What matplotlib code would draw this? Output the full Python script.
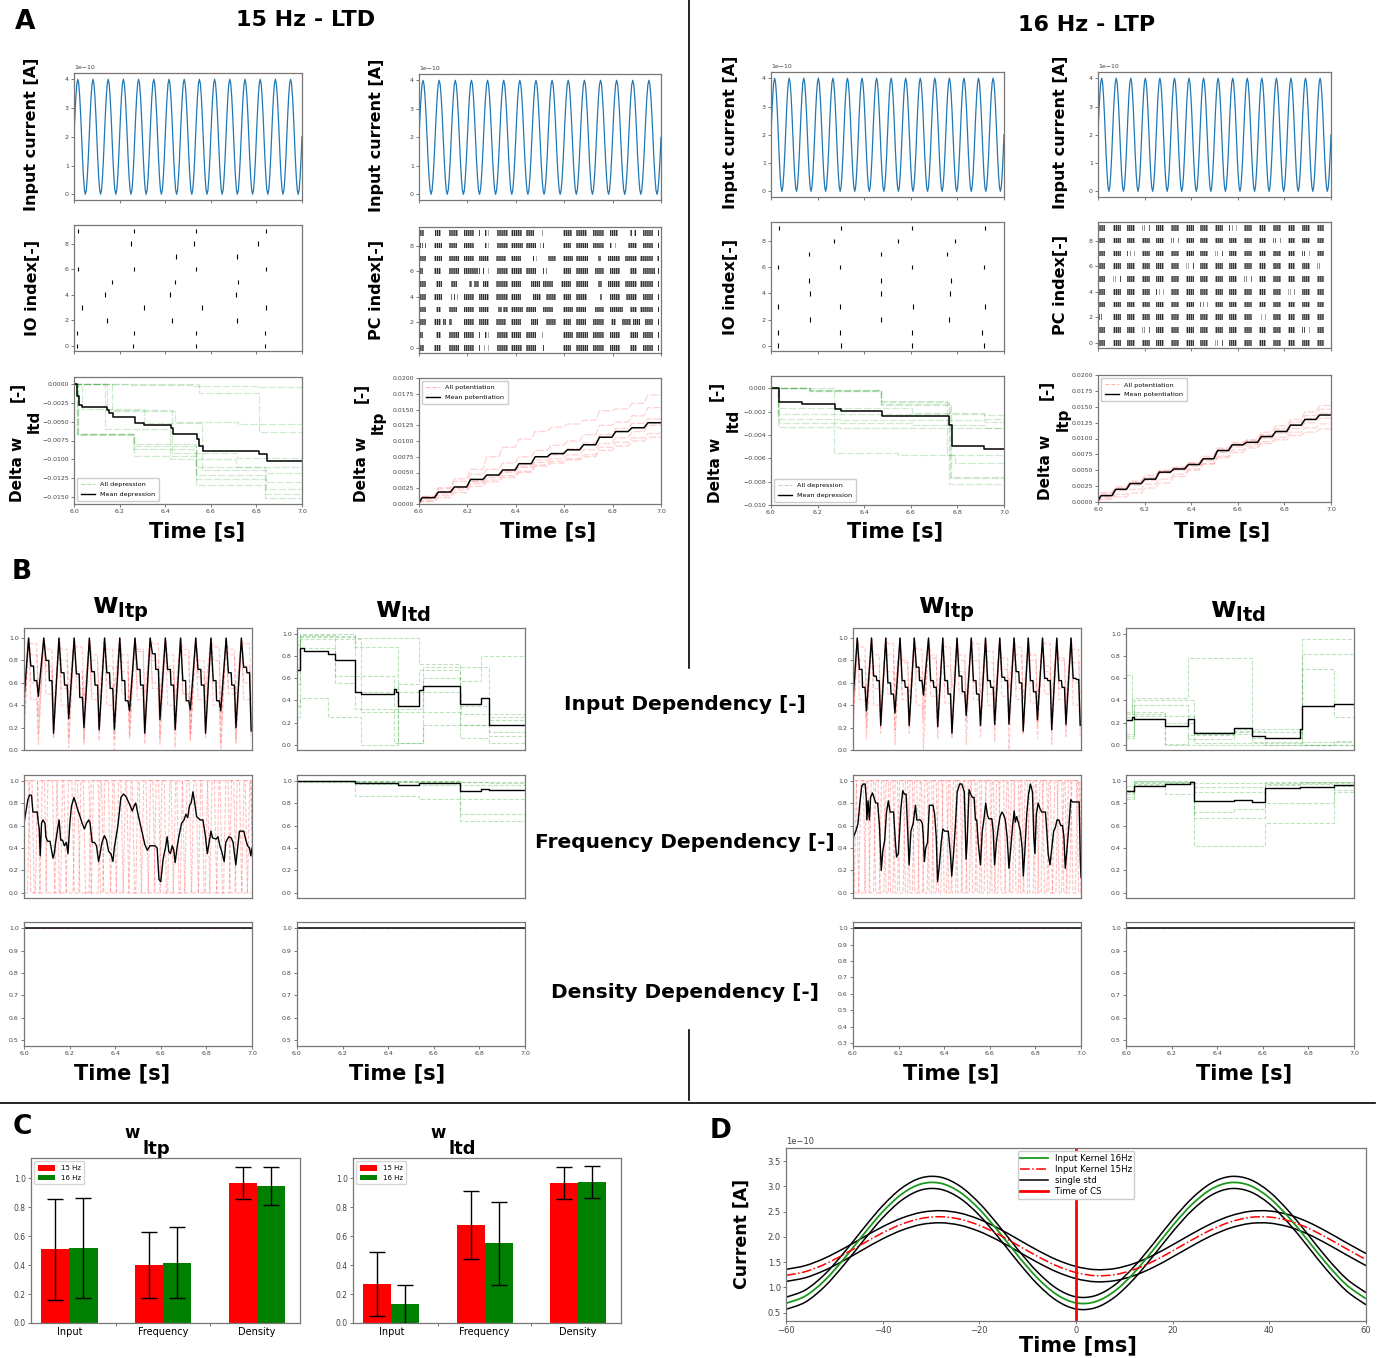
import numpy as np
import matplotlib
matplotlib.use("Agg")
import matplotlib.pyplot as plt
from matplotlib import font_manager
from matplotlib.lines import Line2D
from matplotlib.path import Path
from matplotlib.patches import PathPatch

W, H, DPI = 1386, 1358, 100
_names = {f.name for f in font_manager.fontManager.ttflist}
NARROW = "Liberation Sans Narrow" if "Liberation Sans Narrow" in _names else "DejaVu Sans"
plt.rcParams["font.family"] = [NARROW, "DejaVu Sans"]
plt.rcParams["hatch.linewidth"] = 0.6

# ============================ DATA ============================
# ---- Panel A: input current, one sampled cycle (x1e-10 A), repeated per stimulus cycle
current_cycle = [2.0, 2.77, 3.41, 3.85, 4.0, 3.85, 3.41, 2.77, 2.0, 1.23, 0.59, 0.15, 0.0, 0.15, 0.59, 1.23]
n_cycles_15 = 15
n_cycles_16 = 16

# ---- IO spike times (s), rows 0..9
io_spikes_15 = [
    [6.015, 6.259, 6.533, 6.837], [6.015, 6.261, 6.534, 6.839], [6.143, 6.428, 6.713],
    [6.035, 6.305, 6.561, 6.842], [6.136, 6.422, 6.712], [6.168, 6.441, 6.720],
    [6.019, 6.265, 6.537, 6.840], [6.447, 6.716], [6.250, 6.527, 6.805],
    [6.016, 6.262, 6.537, 6.840]]
io_spikes_16 = [
    [6.031, 6.299, 6.606, 6.916], [6.029, 6.294, 6.604, 6.907], [6.166, 6.473, 6.764],
    [6.029, 6.297, 6.609, 6.917], [6.167, 6.473, 6.769], [6.164, 6.473, 6.774],
    [6.031, 6.297, 6.604, 6.914], [6.164, 6.473, 6.757], [6.271, 6.547, 6.790],
    [6.033, 6.300, 6.607, 6.917]]

# ---- PC bursts, 15 Hz: (start_ms, end_ms) after 6.0 s, rows 0..9
pc_bursts_15 = [
    [(0,21),(62,90),(124,166),(187,228),(249,253),(270,274),(284,288),(321,366),(380,426),(443,484),(498,502),(514,517),(595,629),(650,698),(719,763),(788,830),(871,899),(927,968),(989,993)],
    [(0,17),(69,90),(124,166),(187,228),(249,253),(274,279),(286,290),(321,366),(380,422),(443,484),(498,502),(509,513),(595,636),(650,698),(719,763),(788,830),(871,906),(927,968),(989,993)],
    [(0,28),(62,90),(101,111),(124,138),(187,228),(249,290),(318,360),(380,422),(463,491),(526,567),(595,629),(650,691),(719,763),(795,816),(837,878),(885,913),(934,968),(989,993)],
    [(0,28),(69,90),(124,159),(187,228),(249,290),(325,343),(349,366),(380,429),(443,484),(512,553),(595,636),(650,691),(726,763),(788,844),(871,899),(913,968),(989,993)],
    [(0,28),(62,97),(131,138),(145,149),(159,163),(187,228),(249,290),(318,366),(380,422),(470,505),(526,567),(595,629),(650,696),(747,758),(788,830),(857,902),(927,968),(989,993)],
    [(0,28),(69,97),(131,159),(207,221),(228,249),(263,290),(318,366),(380,422),(463,498),(512,553),(588,629),(650,698),(740,758),(781,830),(851,902),(913,968),(989,993)],
    [(0,17),(62,90),(124,166),(187,242),(249,253),(266,270),(284,288),(321,366),(380,426),(443,484),(512,516),(526,530),(595,629),(650,698),(726,763),(788,830),(871,899),(927,975),(989,993)],
    [(0,28),(62,97),(124,166),(187,228),(249,290),(318,360),(380,422),(470,477),(484,488),(532,567),(595,636),(650,698),(740,754),(781,830),(851,899),(913,968),(982,993)],
    [(3,10),(14,18),(25,30),(62,97),(124,159),(187,228),(274,279),(285,290),(321,366),(380,429),(443,484),(498,503),(512,517),(595,629),(650,698),(719,763),(788,798),(809,813),(864,899),(927,968),(989,993)],
    [(0,21),(66,90),(124,163),(187,228),(249,253),(274,279),(286,290),(322,366),(380,425),(443,477),(498,502),(509,513),(595,632),(650,696),(719,763),(788,823),(871,880),(889,896),(927,968),(989,993)]]

# ---- PC bursts, 16 Hz: per-cycle burst window (ms) and per-row code (B burst, S split, . none)
pc16_windows = [(3,32),(64,98),(126,160),(189,222),(251,285),(314,347),(376,410),(439,472),
                (501,535),(564,597),(626,660),(689,722),(751,785),(814,847),(876,910),(939,972)]
pc16_codes = ["BBBBBBBBSBBBBBBB", "BBBSBBBBBBBBBBSB", "SBBBBBBBBBBSBBBB", "BBBBBBBSBBBBBBBB",
              "BBBBSBBBBBBBBSBB", "BSBBBBBBBBSBBBBB", "BBBBBBSBBBBBBBBS", "BBSBBBBBSBBBBBSB",
              "BBBBBSBBBBBBSBBB", "BBBSBBBBBSBBBBBB"]

# ---- Delta w (A, bottom row): step times (s) and levels
dltd15_mean_t = [6.015, 6.022, 6.034, 6.143, 6.152, 6.170, 6.268, 6.309, 6.426, 6.436, 6.539, 6.547, 6.564, 6.810, 6.846]
dltd15_mean_v = [-0.0015, -0.0027, -0.0030, -0.0034, -0.0038, -0.0043, -0.0051, -0.0054, -0.0058, -0.0066, -0.0073, -0.0083, -0.0089, -0.0093, -0.0102]
dltd15_traces = [
    ([6.015, 6.259, 6.533, 6.837], [-0.0066, -0.0087, -0.0134, -0.0146]),
    ([6.015, 6.261, 6.534, 6.839], [-0.0066, -0.0096, -0.0111, -0.0152]),
    ([6.143, 6.428, 6.713], [-0.0034, -0.0092, -0.0099]),
    ([6.035, 6.305, 6.561, 6.842], [-0.0033, -0.0052, -0.0114, -0.0119]),
    ([6.136, 6.422, 6.712], [-0.0060, -0.0100, -0.0110]),
    ([6.168, 6.441, 6.720], [-0.0035, -0.0050, -0.0053]),
    ([6.019, 6.265, 6.537, 6.840], [-0.0066, -0.0080, -0.0121, -0.0140]),
    ([6.550, 6.810], [-0.0012, -0.0063]),
    ([6.250, 6.527, 6.805], [-0.0001, -0.0002, -0.0003]),
    ([6.016, 6.262, 6.537, 6.840], [-0.0067, -0.0083, -0.0126, -0.0131])]

dltd16_mean_t = [6.035, 6.135, 6.275, 6.300, 6.476, 6.765, 6.775, 6.915]
dltd16_mean_v = [-0.0012, -0.0013, -0.0018, -0.0019, -0.0024, -0.0031, -0.0049, -0.0052]
dltd16_traces = [
    ([6.031, 6.299, 6.606, 6.916], [-0.0017, -0.0017, -0.0021, -0.0023]),
    ([6.029, 6.294, 6.604, 6.907], [-0.0033, -0.0034, -0.0034, -0.0034]),
    ([6.166, 6.473, 6.764], [-0.0001, -0.0012, -0.0082]),
    ([6.029, 6.297, 6.609, 6.917], [-0.0026, -0.0027, -0.0027, -0.0029]),
    ([6.167, 6.473, 6.769], [-0.0002, -0.0013, -0.0076]),
    ([6.164, 6.473, 6.774], [-0.0001, -0.0014, -0.0077]),
    ([6.031, 6.297, 6.604, 6.914], [-0.0022, -0.0022, -0.0022, -0.0026]),
    ([6.164, 6.473, 6.757], [-0.0002, -0.0011, -0.0057]),
    ([6.271, 6.547, 6.790], [-0.0055, -0.0057, -0.0064]),
    ([6.033, 6.300, 6.607, 6.917], [-0.0030, -0.0030, -0.0031, -0.0034])]

dltp15_step_t = [6.005, 6.072, 6.138, 6.205, 6.272, 6.338, 6.405, 6.472, 6.538, 6.605, 6.672, 6.738, 6.805, 6.872, 6.938]
dltp15_mean = [0.0010, 0.0019, 0.0027, 0.0039, 0.0046, 0.0054, 0.0064, 0.0075, 0.0080, 0.0086, 0.0094, 0.0106, 0.0115, 0.0121, 0.0129]
dltp15_traces = [
    [0.0012, 0.0026, 0.0040, 0.0055, 0.0075, 0.0090, 0.0103, 0.0115, 0.0122, 0.0127, 0.0133, 0.0148, 0.0151, 0.0160, 0.0173],
    [0.0012, 0.0024, 0.0036, 0.0047, 0.0055, 0.0065, 0.0075, 0.0085, 0.0093, 0.0100, 0.0110, 0.0125, 0.0130, 0.0140, 0.0153],
    [0.0010, 0.0020, 0.0028, 0.0036, 0.0045, 0.0052, 0.0060, 0.0070, 0.0078, 0.0088, 0.0097, 0.0110, 0.0120, 0.0128, 0.0135],
    [0.0008, 0.0016, 0.0025, 0.0035, 0.0042, 0.0050, 0.0058, 0.0066, 0.0072, 0.0078, 0.0086, 0.0096, 0.0105, 0.0115, 0.0125],
    [0.0005, 0.0013, 0.0022, 0.0032, 0.0038, 0.0045, 0.0052, 0.0062, 0.0068, 0.0072, 0.0078, 0.0090, 0.0098, 0.0105, 0.0112],
    [0.0004, 0.0010, 0.0018, 0.0028, 0.0035, 0.0042, 0.0050, 0.0060, 0.0065, 0.0070, 0.0075, 0.0085, 0.0092, 0.0100, 0.0106]]

dltp16_step_t = [6.005, 6.068, 6.130, 6.193, 6.255, 6.318, 6.380, 6.443, 6.505, 6.568, 6.630, 6.693, 6.755, 6.818, 6.880, 6.943]
dltp16_mean = [0.0010, 0.0020, 0.0029, 0.0036, 0.0047, 0.0052, 0.0059, 0.0068, 0.0081, 0.0090, 0.0094, 0.0103, 0.0111, 0.0121, 0.0130, 0.0137]
dltp16_traces = [
    [0.0015, 0.0024, 0.0033, 0.0042, 0.0050, 0.0055, 0.0062, 0.0072, 0.0085, 0.0094, 0.0098, 0.0110, 0.0120, 0.0130, 0.0142, 0.0152],
    [0.0013, 0.0022, 0.0031, 0.0039, 0.0049, 0.0054, 0.0061, 0.0070, 0.0083, 0.0092, 0.0097, 0.0106, 0.0115, 0.0126, 0.0136, 0.0146],
    [0.0011, 0.0020, 0.0030, 0.0037, 0.0047, 0.0052, 0.0059, 0.0068, 0.0081, 0.0090, 0.0094, 0.0104, 0.0112, 0.0122, 0.0131, 0.0140],
    [0.0008, 0.0018, 0.0027, 0.0034, 0.0045, 0.0050, 0.0056, 0.0065, 0.0078, 0.0087, 0.0091, 0.0100, 0.0108, 0.0116, 0.0125, 0.0132],
    [0.0004, 0.0008, 0.0014, 0.0022, 0.0030, 0.0040, 0.0050, 0.0060, 0.0072, 0.0082, 0.0088, 0.0095, 0.0102, 0.0110, 0.0117, 0.0123],
    [0.0006, 0.0012, 0.0020, 0.0028, 0.0036, 0.0044, 0.0052, 0.0060, 0.0070, 0.0078, 0.0085, 0.0092, 0.0098, 0.0105, 0.0110, 0.0115]]

# ---- Panel B, w_ltp input dependency: per-cycle plateau levels and minima
win15_start = 0.45
win15_p1 = [0.75, 0.80, 0.69, 0.68, 0.70, 0.69, 0.62, 0.72, 0.86, 0.72, 0.62, 0.72, 0.62, 0.69, 0.74]
win15_p2 = [0.62, 0.62, 0.58, 0.47, 0.58, 0.55, 0.44, 0.58, 0.72, 0.58, 0.44, 0.58, 0.44, 0.58, 0.69]
win15_min = [0.48, 0.15, 0.28, 0.20, 0.18, 0.18, 0.35, 0.15, 0.27, 0.18, 0.36, 0.15, 0.35, 0.20, 0.17]
win15_red_plateau = [
    [0.95, 0.90, 0.80, 0.92, 0.85, 0.90, 0.78, 0.88, 0.95, 0.85, 0.90, 0.80, 0.92, 0.85, 0.95],
    [0.60, 0.70, 0.55, 0.65, 0.50, 0.60, 0.70, 0.55, 0.60, 0.70, 0.50, 0.65, 0.60, 0.55, 0.60],
    [0.85, 0.75, 0.90, 0.70, 0.80, 0.75, 0.85, 0.90, 0.80, 0.75, 0.85, 0.70, 0.80, 0.90, 0.75],
    [0.45, 0.50, 0.40, 0.55, 0.45, 0.40, 0.50, 0.45, 0.55, 0.40, 0.50, 0.45, 0.40, 0.50, 0.45]]
win15_red_min = [
    [0.30, 0.25, 0.10, 0.45, 0.20, 0.40, 0.12, 0.30, 0.50, 0.20, 0.15, 0.40, 0.25, 0.30, 0.20],
    [0.15, 0.10, 0.30, 0.05, 0.20, 0.10, 0.25, 0.15, 0.05, 0.30, 0.10, 0.20, 0.05, 0.10, 0.30],
    [0.55, 0.35, 0.50, 0.30, 0.45, 0.55, 0.35, 0.50, 0.40, 0.45, 0.30, 0.55, 0.40, 0.50, 0.45],
    [0.05, 0.12, 0.02, 0.10, 0.08, 0.00, 0.10, 0.05, 0.12, 0.02, 0.08, 0.10, 0.00, 0.05, 0.10]]

win16_start = 0.45
win16_p1 = [0.72, 0.66, 0.60, 0.62, 0.74, 0.62, 0.62, 0.66, 0.62, 0.62, 0.65, 0.70, 0.62, 0.64, 0.62, 0.64]
win16_p2 = [0.56, 0.62, 0.50, 0.56, 0.62, 0.56, 0.50, 0.52, 0.50, 0.56, 0.62, 0.60, 0.52, 0.62, 0.56, 0.63]
win16_min = [0.35, 0.22, 0.33, 0.22, 0.49, 0.21, 0.15, 0.31, 0.22, 0.23, 0.23, 0.17, 0.27, 0.18, 0.23, 0.22]
win16_red_plateau = [
    [0.92, 0.85, 0.95, 0.80, 0.90, 0.85, 0.92, 0.80, 0.95, 0.88, 0.82, 0.92, 0.85, 0.95, 0.80, 0.90],
    [0.60, 0.55, 0.70, 0.50, 0.65, 0.60, 0.55, 0.70, 0.60, 0.50, 0.65, 0.55, 0.60, 0.70, 0.55, 0.60],
    [0.80, 0.75, 0.85, 0.78, 0.70, 0.82, 0.75, 0.85, 0.80, 0.78, 0.72, 0.85, 0.80, 0.75, 0.82, 0.78],
    [0.45, 0.40, 0.50, 0.45, 0.40, 0.48, 0.42, 0.50, 0.45, 0.40, 0.48, 0.45, 0.42, 0.50, 0.45, 0.40]]
win16_red_min = [
    [0.30, 0.20, 0.40, 0.15, 0.35, 0.25, 0.10, 0.30, 0.20, 0.40, 0.25, 0.15, 0.35, 0.20, 0.30, 0.25],
    [0.10, 0.15, 0.05, 0.20, 0.00, 0.10, 0.15, 0.05, 0.12, 0.08, 0.00, 0.15, 0.10, 0.05, 0.12, 0.10],
    [0.50, 0.40, 0.55, 0.45, 0.50, 0.40, 0.55, 0.45, 0.50, 0.42, 0.55, 0.45, 0.40, 0.50, 0.45, 0.50],
    [0.20, 0.25, 0.18, 0.22, 0.25, 0.20, 0.18, 0.25, 0.22, 0.20, 0.25, 0.18, 0.22, 0.25, 0.20, 0.22]]

# ---- Panel B, w_ltp frequency dependency: mean trace (ms after 6 s, value)
wfr15_t = [0,8,17,24,33,39,52,58,63,67,71,77,83,92,96,103,114,127,133,138,146,154,161,169,177,186,193,201,208,219,227,237,243,255,265,274,284,290,299,309,318,327,334,342,353,362,371,381,390,396,412,425,436,447,456,465,475,484,490,500,509,517,530,541,553,566,574,584,592,600,610,621,628,635,642,650,657,663,671,679,691,702,710,718,726,733,741,749,757,773,785,796,804,812,820,827,843,851,859,867,878,885,898,909,917,929,937,945,954,964,973,981,989,995,1000]
wfr15_v = [0.62,0.72,0.83,0.87,0.87,0.72,0.72,0.72,0.62,0.57,0.33,0.62,0.65,0.62,0.50,0.46,0.46,0.31,0.35,0.44,0.55,0.65,0.47,0.47,0.42,0.45,0.35,0.62,0.77,0.85,0.80,0.73,0.70,0.62,0.57,0.62,0.65,0.62,0.45,0.45,0.42,0.28,0.35,0.45,0.51,0.47,0.37,0.35,0.28,0.40,0.60,0.85,0.88,0.86,0.82,0.78,0.73,0.78,0.80,0.70,0.62,0.55,0.43,0.38,0.42,0.42,0.42,0.40,0.12,0.10,0.30,0.41,0.50,0.37,0.35,0.42,0.38,0.27,0.40,0.50,0.62,0.65,0.70,0.67,0.78,0.80,0.90,0.80,0.68,0.65,0.65,0.50,0.35,0.45,0.55,0.49,0.48,0.50,0.42,0.37,0.28,0.45,0.50,0.49,0.45,0.25,0.40,0.55,0.55,0.55,0.47,0.42,0.40,0.33,0.40]
wfr16_t = [0,6,14,22,30,38,45,53,58,61,66,72,77,85,92,100,108,116,124,131,139,147,155,163,171,178,186,191,199,210,218,225,233,241,246,254,264,274,280,288,296,304,308,313,319,327,335,343,351,358,365,371,379,387,394,402,410,418,427,433,441,449,457,468,477,488,496,501,509,516,524,531,537,543,549,559,567,574,582,590,596,603,609,615,621,629,637,645,653,660,668,676,684,692,700,707,712,718,726,734,742,747,754,762,770,778,787,793,798,804,812,820,828,836,844,850,856,864,872,880,887,895,903,911,919,925,931,937,947,955,962,973,984,992,997,1000]
wfr16_v = [0.48,0.52,0.56,0.62,0.80,0.95,0.97,0.97,0.85,0.65,0.82,0.65,0.85,0.89,0.85,0.80,0.80,0.60,0.20,0.38,0.47,0.72,0.82,0.72,0.72,0.72,0.45,0.32,0.35,0.75,0.91,0.88,0.88,0.50,0.25,0.55,0.62,0.78,0.65,0.65,0.65,0.62,0.52,0.28,0.40,0.45,0.78,0.78,0.78,0.70,0.50,0.10,0.25,0.45,0.57,0.55,0.55,0.55,0.35,0.15,0.35,0.60,0.90,0.97,0.97,0.90,0.30,0.47,0.92,0.88,0.85,0.85,0.65,0.65,0.45,0.25,0.55,0.65,0.80,0.69,0.66,0.66,0.66,0.55,0.25,0.45,0.58,0.68,0.72,0.70,0.65,0.50,0.22,0.40,0.60,0.73,0.63,0.68,0.62,0.55,0.40,0.15,0.38,0.70,0.88,0.97,0.90,0.50,0.35,0.70,0.80,0.75,0.72,0.72,0.72,0.55,0.35,0.25,0.40,0.55,0.58,0.65,0.65,0.60,0.60,0.50,0.22,0.35,0.60,0.83,0.81,0.81,0.81,0.81,0.30,0.14]
# individual traces switching between 0 and 1: "high" intervals (ms after 6 s)
wfr15_red_high = [
    [(0,40),(75,130),(165,215),(245,290),(330,375),(410,455),(495,540),(575,620),(660,700),(740,785),(820,865),(905,950),(985,1000)],
    [(20,65),(100,150),(190,240),(290,330),(350,400),(440,480),(520,570),(600,650),(690,730),(770,810),(850,900),(930,975)],
    [(0,25),(55,95),(140,180),(220,265),(300,345),(385,430),(465,510),(550,595),(635,675),(710,760),(800,840),(880,925),(960,1000)]]
wfr16_red_high = [
    [(10,50),(75,115),(140,180),(200,245),(265,305),(330,370),(390,430),(455,495),(515,560),(580,620),(640,685),(705,745),(770,810),(830,870),(895,935),(955,995)],
    [(30,70),(95,140),(160,200),(225,265),(290,330),(350,395),(415,455),(480,520),(540,585),(605,645),(670,710),(730,770),(795,835),(855,900),(920,960),(980,1000)],
    [(0,20),(55,95),(120,160),(180,225),(245,285),(310,350),(370,415),(435,475),(500,540),(560,605),(625,665),(690,730),(750,795),(815,855),(880,920),(940,985)]]

# ---- Panel B, w_ltd: step traces (times s, levels)
wltd_in15_mean = ([6.0, 6.011, 6.031, 6.134, 6.165, 6.255, 6.279, 6.424, 6.433, 6.444, 6.534, 6.554, 6.717, 6.809, 6.843],
                  [0.67, 0.87, 0.84, 0.82, 0.76, 0.48, 0.46, 0.50, 0.48, 0.35, 0.49, 0.53, 0.37, 0.42, 0.18])
wltd_in15_traces = [
    ([6.0, 6.011, 6.255, 6.72], [0.67, 1.0, 0.48, 0.28]),
    ([6.0, 6.011, 6.165, 6.424, 6.554, 6.843], [0.35, 0.99, 0.62, 0.02, 0.70, 0.22]),
    ([6.0, 6.011, 6.134, 6.279, 6.444, 6.717, 6.843], [0.25, 0.42, 0.25, 0.0, 0.30, 0.06, 0.02]),
    ([6.0, 6.011, 6.255, 6.534, 6.717, 6.809], [0.67, 0.97, 0.96, 0.73, 0.57, 0.80]),
    ([6.0, 6.011, 6.165, 6.255, 6.554, 6.717, 6.843], [0.55, 0.87, 0.56, 0.32, 0.60, 0.35, 0.08]),
    ([6.0, 6.011, 6.279, 6.444, 6.534, 6.717, 6.843], [0.70, 0.95, 0.30, 0.55, 0.67, 0.18, 0.12]),
    ([6.0, 6.011, 6.255, 6.444, 6.554, 6.843], [0.90, 0.98, 0.88, 0.02, 0.18, 0.25])]
wltd_fr15_mean = ([6.0, 6.255, 6.444, 6.534, 6.717, 6.809, 6.843], [0.995, 0.975, 0.965, 0.975, 0.91, 0.925, 0.92])
wltd_fr15_traces = [
    ([6.0, 6.255, 6.534], [1.0, 0.86, 0.84]), ([6.0, 6.717], [1.0, 0.70]), ([6.0, 6.717], [0.99, 0.64]),
    ([6.0, 6.255, 6.444], [1.0, 0.97, 0.96]), ([6.0, 6.717], [1.0, 0.99]),
    ([6.0, 6.255, 6.717, 6.843], [1.0, 0.99, 0.985, 0.98])]
wltd_in16_mean = ([6.0, 6.028, 6.036, 6.172, 6.274, 6.299, 6.475, 6.553, 6.611, 6.762, 6.773, 6.914],
                  [0.22, 0.25, 0.23, 0.17, 0.23, 0.11, 0.15, 0.085, 0.06, 0.14, 0.35, 0.37])
wltd_in16_traces = [
    ([6.0, 6.028, 6.172], [0.63, 0.28, 0.0]),
    ([6.0, 6.028, 6.274, 6.553], [0.30, 0.42, 0.78, 0.03]),
    ([6.0, 6.036, 6.299, 6.475, 6.611, 6.773], [0.08, 0.40, 0.12, 0.13, 0.02, 0.95]),
    ([6.0, 6.036, 6.274, 6.475, 6.773], [0.10, 0.36, 0.05, 0.12, 0.82]),
    ([6.0, 6.036, 6.172, 6.299, 6.553, 6.773, 6.914], [0.28, 0.30, 0.20, 0.10, 0.06, 0.68, 0.25]),
    ([6.0, 6.036, 6.299, 6.611, 6.914], [0.06, 0.26, 0.02, 0.0, 0.04]),
    ([6.0, 6.028, 6.172, 6.274, 6.475, 6.773], [0.25, 0.23, 0.01, 0.09, 0.14, 0.0])]
wltd_fr16_mean = ([6.0, 6.036, 6.172, 6.28, 6.299, 6.475, 6.553, 6.611, 6.762, 6.914],
                  [0.91, 0.95, 0.97, 0.985, 0.82, 0.83, 0.81, 0.93, 0.94, 0.965])
wltd_fr16_traces = [
    ([6.0, 6.036, 6.299, 6.611, 6.914], [0.88, 1.0, 0.42, 0.62, 0.95]),
    ([6.0, 6.036, 6.299, 6.611], [0.85, 0.99, 0.67, 0.98]),
    ([6.0, 6.036, 6.299, 6.475, 6.611, 6.914], [0.84, 0.98, 0.72, 0.75, 0.80, 0.90]),
    ([6.0, 6.036, 6.172, 6.299, 6.611], [0.90, 0.96, 0.88, 0.98, 0.99]),
    ([6.0, 6.036, 6.299, 6.611, 6.762], [0.92, 0.97, 0.94, 0.96, 0.99]),
    ([6.0, 6.036, 6.172, 6.299, 6.611, 6.914], [0.95, 1.0, 0.99, 0.90, 0.97, 0.92])]
density_level = 1.0

# ---- Panel C: bar means and std
C_groups = ["Input", "Frequency", "Density"]
C_ltp_15 = [0.51, 0.40, 0.97]
C_ltp_15_err = [0.35, 0.23, 0.11]
C_ltp_16 = [0.52, 0.415, 0.945]
C_ltp_16_err = [0.345, 0.245, 0.133]
C_ltd_15 = [0.27, 0.68, 0.97]
C_ltd_15_err = [0.223, 0.235, 0.11]
C_ltd_16 = [0.13, 0.55, 0.975]
C_ltd_16_err = [0.13, 0.285, 0.11]

# ---- Panel D: input kernels (x1e-10 A) every 4 ms
D_time = [-60,-56,-52,-48,-44,-40,-36,-32,-28,-24,-20,-16,-12,-8,-4,0,4,8,12,16,20,24,28,32,36,40,44,48,52,56,60]
D_kernel_16 = [0.686,0.829,1.138,1.567,2.045,2.497,2.851,3.050,3.062,2.885,2.548,2.105,1.626,1.188,0.859,0.693,
               0.717,0.927,1.289,1.744,2.222,2.644,2.946,3.076,3.016,2.775,2.391,1.926,1.453,1.047,0.776]
D_kernel_15 = [1.238,1.312,1.458,1.654,1.871,2.082,2.254,2.366,2.399,2.351,2.228,2.047,1.833,1.617,1.428,1.294,
               1.232,1.253,1.353,1.517,1.724,1.941,2.143,2.298,2.386,2.393,2.319,2.175,1.979,1.762,1.551]
D_std_16 = 0.12
D_std_15 = 0.12

# ============================ DRAWING ============================
fig = plt.figure(figsize=(W / DPI, H / DPI), dpi=DPI)
BIG = "DejaVu Sans"
GREEN = "#2ca02c"
TICK = 4.5


def px_axes(l, t, r, b):
    return fig.add_axes([l / W, 1 - b / H, (r - l) / W, (b - t) / H])


def ftext(x, y, s, size, rot=0, weight="bold", **kw):
    fig.text(x / W, 1 - y / H, s, fontsize=size, rotation=rot, fontweight=weight,
             family=BIG, ha="center", va="center", **kw)


def style(ax, size=TICK, family=None):
    for sp in ax.spines.values():
        sp.set_color("#777777")
        sp.set_linewidth(0.9)
    ax.tick_params(labelsize=size, length=2.2, width=0.5, pad=1.5, colors="#444444")
    if family:
        for lab in ax.get_xticklabels() + ax.get_yticklabels():
            lab.set_family(family)
        ax.yaxis.get_offset_text().set_family(family)
    ax.yaxis.get_offset_text().set_fontsize(size)


def ramp_steps(times, values, start, ramp=0.008):
    xs, ys = [6.0], [start]
    for t, v in zip(times, values):
        xs += [t - ramp / 2, t + ramp / 2]
        ys += [ys[-1], v]
    xs.append(7.0)
    ys.append(ys[-1])
    return xs, ys


def step_xy(times, values):
    return list(times) + [7.0], list(values) + [values[-1]]


def ltp_cycle_curve(n, p1, p2, mins, start):
    P = 1.0 / n
    frac = [0.0, 0.075, 0.15, 0.33, 0.37, 0.54, 0.645]
    xs, ys = [6.0], [start]
    for k in range(n):
        tp = 6.0 + 0.3 * P + k * P
        lev = [1.0, (1.0 + p1[k]) / 2, p1[k], p1[k], p2[k], p2[k], mins[k]]
        for f, v in zip(frac, lev):
            xs.append(tp + f * P)
            ys.append(v)
    return xs, ys


def square_curve(high, ramp=6):
    xs, ys = [0], [0.0 if high[0][0] > 0 else 1.0]
    for s, e in high:
        if s > 0:
            xs += [s - ramp / 2, s + ramp / 2]
            ys += [0.0, 1.0]
        xs += [e - ramp / 2, e + ramp / 2]
        ys += [1.0, 0.0]
    xs.append(1000)
    ys.append(ys[-1])
    return [6.0 + x / 1000 for x in xs], ys


def smooth_curve(ax, x, y, **kw):
    """Draw a smooth Bezier curve passing through the given sample points."""
    P = np.column_stack([x, y]).astype(float)
    verts = [P[0]]
    codes = [Path.MOVETO]
    n = len(P)
    for i in range(n - 1):
        p0 = P[max(i - 1, 0)]
        p1, p2 = P[i], P[i + 1]
        p3 = P[min(i + 2, n - 1)]
        verts += [p1 + (p2 - p0) / 6, p2 - (p3 - p1) / 6, p2]
        codes += [Path.CURVE4] * 3
    ax.add_patch(PathPatch(Path(verts, codes), fill=False, **kw))


# ---------------- separators ----------------
for (x1, y1, x2, y2) in [(689, 0, 689, 668), (689, 1030, 689, 1100), (0, 1103, 1375, 1103)]:
    fig.add_artist(Line2D([x1 / W, x2 / W], [1 - y1 / H, 1 - y2 / H], color="black", lw=1.2))

# ---------------- panel letters & titles ----------------
ftext(25, 22, "A", 19)
ftext(22, 572, "B", 19)
ftext(22, 1127, "C", 19)
ftext(721, 1131, "D", 19)
ftext(306, 20, "15 Hz - LTD", 16)
ftext(1087, 25, "16 Hz - LTP", 16)

# ---------------- Panel A ----------------
A_cols = [(74, 302), (419, 661), (771, 1004), (1098, 1331)]
A_rows = [[(73, 200), (225, 351), (377, 504)], [(74, 200), (227, 353), (378, 504)],
          [(72, 197), (222, 351), (376, 505)], [(72, 197), (222, 348), (375, 502)]]
A_ylab_x = [32, 376, 731, 1061]
A_time_x = [197, 548, 895, 1222]
A_cycles = [n_cycles_15, n_cycles_15, n_cycles_16, n_cycles_16]
xt = [6.0, 6.2, 6.4, 6.6, 6.8, 7.0]

for c in range(4):
    l, r = A_cols[c]
    # input current
    ax = px_axes(l, A_rows[c][0][0], r, A_rows[c][0][1])
    vals = np.array(current_cycle * A_cycles[c] + [current_cycle[0]]) * 1e-10
    ax.plot(np.linspace(6.0, 7.0, len(vals)), vals, color="#1f77b4", lw=0.9)
    ax.set_xlim(6.0, 7.0)
    ax.set_ylim(-0.2e-10, 4.22e-10)
    ax.set_yticks(np.array([0, 1, 2, 3, 4]) * 1e-10)
    ax.set_xticks(xt)
    ax.set_xticklabels([])
    style(ax)
    ftext(A_ylab_x[c], (A_rows[c][0][0] + A_rows[c][0][1]) / 2 - 2, "Input current [A]", 11.5, rot=90)

    # raster
    ax = px_axes(l, A_rows[c][1][0], r, A_rows[c][1][1])
    if c in (0, 2):
        spikes = io_spikes_15 if c == 0 else io_spikes_16
        ax.eventplot(spikes, lineoffsets=list(range(10)), linelengths=0.35, linewidths=0.8, colors="k")
        lab = "IO index[-]"
    else:
        if c == 1:
            rows = pc_bursts_15
        else:
            rows = []
            for code in pc16_codes:
                iv = []
                for ch, (s, e) in zip(code, pc16_windows):
                    if ch == "B":
                        iv.append((s, e))
                    elif ch == "S":
                        iv += [(s, s + 4), (s + 10, s + 14), (e - 4, e)]
                rows.append(iv)
        for i, iv in enumerate(rows):
            ax.broken_barh([(6.0 + s / 1000, (e - s) / 1000) for s, e in iv], (i - 0.22, 0.44),
                           facecolors="#2e2e2e", edgecolor="#c8c8c8", hatch="||||||||", linewidth=0)
        lab = "PC index[-]"
    ax.set_xlim(6.0, 7.0)
    ax.set_ylim(-0.4, 9.45)
    ax.set_yticks([0, 2, 4, 6, 8])
    ax.set_xticks(xt)
    ax.set_xticklabels([])
    style(ax)
    ftext(A_ylab_x[c], (A_rows[c][1][0] + A_rows[c][1][1]) / 2, lab, 11.5, rot=90)

    # delta w
    t0, t1 = A_rows[c][2]
    ax = px_axes(l, t0, r, t1)
    if c in (0, 2):
        mt, mv = (dltd15_mean_t, dltd15_mean_v) if c == 0 else (dltd16_mean_t, dltd16_mean_v)
        traces = dltd15_traces if c == 0 else dltd16_traces
        for tt, vv in traces:
            xs, ys = step_xy([6.0] + tt, [0.0] + vv)
            ax.plot(xs, ys, color=GREEN, alpha=0.22, lw=0.9, ls=(0, (6, 1.5)), drawstyle="steps-post")
        xs, ys = step_xy([6.0] + mt, [0.0] + mv)
        ax.plot(xs, ys, color="k", lw=1.1, drawstyle="steps-post")
        if c == 0:
            ax.set_ylim(-0.016, 0.001)
            ax.set_yticks(np.arange(-0.015, 0.0001, 0.0025))
        else:
            ax.set_ylim(-0.010, 0.00106)
            ax.set_yticks(np.arange(-0.010, 0.0001, 0.002))
        hl = [Line2D([], [], color=GREEN, alpha=0.35, lw=0.8, ls="--"), Line2D([], [], color="k", lw=1.0)]
        ax.legend(hl, ["All depression", "Mean depression"], loc="lower left", fontsize=4.6,
                  handlelength=2.2, borderpad=0.6, labelspacing=0.7, framealpha=1, edgecolor="#cccccc")
        sub = "ltd"
    else:
        st, mv = (dltp15_step_t, dltp15_mean) if c == 1 else (dltp16_step_t, dltp16_mean)
        traces = dltp15_traces if c == 1 else dltp16_traces
        for vv in traces:
            xs, ys = ramp_steps(st, vv, 0.0, ramp=0.016)
            ax.plot(xs, ys, color="red", alpha=0.18, lw=0.9, ls=(0, (6, 1.5)))
        xs, ys = ramp_steps(st, mv, 0.0, ramp=0.016)
        ax.plot(xs, ys, color="k", lw=1.1)
        ax.set_ylim(0, 0.02)
        ax.set_yticks(np.arange(0, 0.02001, 0.0025))
        hl = [Line2D([], [], color="red", alpha=0.3, lw=0.8, ls="--"), Line2D([], [], color="k", lw=1.0)]
        ax.legend(hl, ["All potentiation", "Mean potentiation"], loc="upper left", fontsize=4.6,
                  handlelength=2.2, borderpad=0.6, labelspacing=0.7, framealpha=1, edgecolor="#cccccc")
        sub = "ltp"
    ax.set_xlim(6.0, 7.0)
    ax.set_xticks(xt)
    style(ax)
    yl = A_ylab_x[c] - 15
    ftext(yl, t1 - 35, "Delta w", 11, rot=90)
    ftext(yl, t0 + 15, "[-]", 11, rot=90)
    ftext(yl + 17, t0 + 44, sub, 11, rot=90)
    ftext(A_time_x[c], 531, "Time [s]", 15)

# ---------------- Panel B ----------------
B_cols = [(24, 252), (297, 525), (853, 1081), (1126, 1354)]
B_rows = [(628, 750), (775, 898), (922, 1046)]
B_title_x = [120, 403, 946, 1238]
B_time_x = [122, 397, 951, 1244]
B_title_sub = ["ltp", "ltd", "ltp", "ltd"]
for c in range(4):
    l, r = B_cols[c]
    ftext(B_title_x[c], 610, r"$\mathbf{w}_{\mathbf{" + B_title_sub[c] + "}}$", 20)
    for ri in range(3):
        t, b = B_rows[ri]
        ax = px_axes(l, t, r, b)
        hz16 = c >= 2
        if ri == 0 and c in (0, 2):
            n = n_cycles_16 if hz16 else n_cycles_15
            rp = win16_red_plateau if hz16 else win15_red_plateau
            rm = win16_red_min if hz16 else win15_red_min
            for pp, mm in zip(rp, rm):
                xs, ys = ltp_cycle_curve(n, pp, pp, mm, mm[-1])
                ax.plot(xs, ys, color="red", alpha=0.22, lw=0.8, ls="--")
            if hz16:
                xs, ys = ltp_cycle_curve(n, win16_p1, win16_p2, win16_min, win16_start)
            else:
                xs, ys = ltp_cycle_curve(n, win15_p1, win15_p2, win15_min, win15_start)
            ax.plot(xs, ys, color="k", lw=1.0)
            ax.set_ylim(0.0, 1.09)
        elif ri == 1 and c in (0, 2):
            highs = wfr16_red_high if hz16 else wfr15_red_high
            for hh in highs:
                xs, ys = square_curve(hh, ramp=10)
                ax.plot(xs, ys, color="red", alpha=0.25, lw=0.8, ls="--")
            tt, vv = (wfr16_t, wfr16_v) if hz16 else (wfr15_t, wfr15_v)
            ax.plot([6.0 + x / 1000 for x in tt], vv, color="k", lw=1.0)
            ax.set_ylim(-0.045, 1.05)
        elif ri < 2:
            if ri == 0:
                mean, traces = (wltd_in16_mean, wltd_in16_traces) if hz16 else (wltd_in15_mean, wltd_in15_traces)
            else:
                mean, traces = (wltd_fr16_mean, wltd_fr16_traces) if hz16 else (wltd_fr15_mean, wltd_fr15_traces)
            for tt, vv in traces:
                xs, ys = step_xy(tt, vv)
                ax.plot(xs, ys, color=GREEN, alpha=0.3, lw=0.8, ls="--", drawstyle="steps-post")
            xs, ys = step_xy(*mean)
            ax.plot(xs, ys, color="k", lw=1.0, drawstyle="steps-post")
            ax.set_ylim(-0.045, 1.05)
        else:
            col = "red" if c in (0, 2) else GREEN
            ax.plot([6.0, 7.0], [density_level, density_level], color=col, alpha=0.3, lw=0.8, ls="--")
            ax.plot([6.0, 7.0], [density_level, density_level], color="k", lw=1.1)
        ax.set_xlim(6.0, 7.0)
        if ri < 2:
            ax.set_xticks([])
            ax.set_yticks([0, 0.2, 0.4, 0.6, 0.8, 1.0])
        else:
            ax.set_xticks(xt)
            if c == 2:
                ax.set_ylim(0.282, 1.037)
                ax.set_yticks([0.3, 0.4, 0.5, 0.6, 0.7, 0.8, 0.9, 1.0])
            else:
                ax.set_ylim(0.475, 1.027)
                ax.set_yticks([0.5, 0.6, 0.7, 0.8, 0.9, 1.0])
        style(ax)
    ftext(B_time_x[c], 1073, "Time [s]", 15)

ftext(685, 704, "Input Dependency [-]", 14.5)
ftext(685, 843, "Frequency Dependency [-]", 14.5)
ftext(685, 993, "Density Dependency [-]", 14.5)

# ---------------- Panel C ----------------
x = np.arange(len(C_groups))
for (l, r), m15, e15, m16, e16, sub, tx in [
        ((31, 300), C_ltp_15, C_ltp_15_err, C_ltp_16, C_ltp_16_err, "ltp", 132),
        ((353, 621), C_ltd_15, C_ltd_15_err, C_ltd_16, C_ltd_16_err, "ltd", 438)]:
    ax = px_axes(l, 1158, r, 1323)
    ek = dict(elinewidth=1.0, capthick=1.0, ecolor="k")
    ax.bar(x - 0.15, m15, 0.3, color="red", yerr=e15, capsize=6, error_kw=ek, label="15 Hz")
    ax.bar(x + 0.15, m16, 0.3, color="green", yerr=e16, capsize=6, error_kw=ek, label="16 Hz")
    ax.set_xlim(-0.41, 2.46)
    ax.set_ylim(0, 1.14)
    ax.set_yticks([0, 0.2, 0.4, 0.6, 0.8, 1.0])
    ax.set_xticks([0.5, 1.5])
    ax.set_xticklabels([])
    ax.set_xticks(x, minor=True)
    ax.set_xticklabels(C_groups, minor=True, fontsize=7, family="DejaVu Sans")
    ax.tick_params(axis="x", which="minor", length=0, pad=3)
    style(ax, 5.5, "DejaVu Sans")
    for lab in ax.get_xticklabels(minor=True):
        lab.set_fontsize(7)
    ax.legend(loc="upper left", handlelength=2.5, handleheight=0.9, borderpad=0.5,
              prop={"family": "DejaVu Sans", "size": 5})
    ftext(tx, 1133, "w", 12)
    ftext(tx + 24, 1149, sub, 13)

# ---------------- Panel D ----------------
ax = px_axes(786, 1148, 1366, 1321)
dt = np.array(D_time, dtype=float)
k16 = np.array(D_kernel_16) * 1e-10
k15 = np.array(D_kernel_15) * 1e-10
s16 = D_std_16 * 1e-10
s15 = D_std_15 * 1e-10
smooth_curve(ax, dt, k16 + s16, edgecolor="k", lw=1.1)
smooth_curve(ax, dt, k16 - s16, edgecolor="k", lw=1.1)
smooth_curve(ax, dt, k15 + s15, edgecolor="k", lw=1.1)
smooth_curve(ax, dt, k15 - s15, edgecolor="k", lw=1.1)
smooth_curve(ax, dt, k16, edgecolor="#1a9a1a", lw=1.3)
smooth_curve(ax, dt, k15, edgecolor="red", lw=1.1, linestyle="-.")
ax.axvline(0, color="red", lw=2)
ax.set_xlim(-60, 60)
ax.set_ylim(0.335e-10, 3.76e-10)
ax.set_xticks([-60, -40, -20, 0, 20, 40, 60])
ax.set_yticks(np.arange(0.5, 3.51, 0.5) * 1e-10)
style(ax, 6, "DejaVu Sans")
hd = [Line2D([], [], color="#1a9a1a", lw=1.3), Line2D([], [], color="red", lw=1.1, ls="-."),
      Line2D([], [], color="k", lw=1.1), Line2D([], [], color="red", lw=2)]
ax.legend(hd, ["Input Kernel 16Hz", "Input Kernel 15Hz", "single std", "Time of CS"],
          loc="upper center", bbox_to_anchor=(0.5, 1.005), prop={"family": "DejaVu Sans", "size": 6.2},
          handlelength=3.2, borderpad=0.3, labelspacing=0.25, framealpha=1, edgecolor="#cccccc")
ftext(742, 1234, "Current [A]", 12.5, rot=90)
ftext(1078, 1345, "Time [ms]", 15)

fig.savefig("out.png", dpi=DPI)
